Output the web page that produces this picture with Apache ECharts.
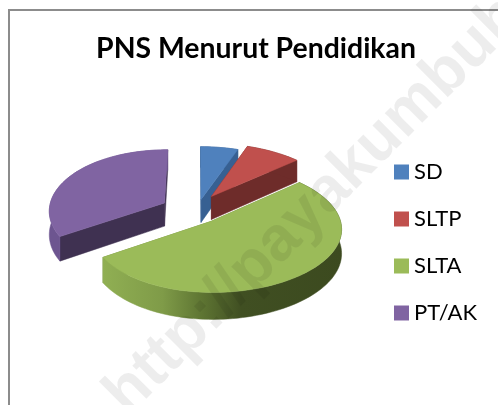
<!DOCTYPE html>
<html><head><meta charset="utf-8">
<style>html,body{margin:0;padding:0;background:#fff}#c{width:498px;height:405px}</style>
<script src="https://cdn.jsdelivr.net/npm/echarts@6/dist/echarts.min.js"></script>
</head><body><div id="c"></div>
<script>
const categories = ['SD', 'SLTP', 'SLTA', 'PT/AK'];
const values = [5.5, 8, 52.5, 34];
const topColors = ['#4f81bd', '#c0504d', '#9bbb59', '#8064a2'];
const cutColors = ['#376092', '#6e2c2a', '#6f8a3d', '#3f3151'];
const explode = [24, 26, 23, 38];
const lift = [-2, -6, -1, -1];
const drawOrder = [0, 1, 3, 2];

const CX = 197, CY = 213, R = 122, K = 0.5, D = 1100, T = 23.5, SKEW = 0.3;
const total = values.reduce((a, b) => a + b, 0);
const starts = values.map((_, i) => values.slice(0, i).reduce((a, b) => a + b, 0) / total * 360);

function renderSlice(i) {
  return function (params, api) {
    const sweep = api.value(0) / total * 360;
    const a0 = starts[i], a1 = a0 + sweep, mid = (a0 + a1) / 2 * Math.PI / 180;
    const ox = explode[i] * Math.sin(mid), oy = -explode[i] * Math.cos(mid);
    const proj = (x, y, h) => {
      const s = D / (D - (y + oy));
      const sx = D / (D - (y + oy) - (x + ox) * SKEW);
      return [CX + (x + ox) * sx, CY + lift[i] + (y + oy) * K * s + h * s];
    };
    const rim = a => { const r = a * Math.PI / 180; return [R * Math.sin(r), -R * Math.cos(r)]; };
    const arc = [];
    for (let a = a0; a <= a1 + 0.001; a += (a1 - a0) / Math.ceil(sweep / 2)) arc.push(rim(a));
    const top = arc.map(p => proj(p[0], p[1], 0));
    const low = arc.map(p => proj(p[0], p[1], T));
    const apexT = proj(0, 0, 0), apexB = proj(0, 0, T);
    const poly = (points, fill) => ({ type: 'polygon', shape: { points }, style: { fill, stroke: fill, lineWidth: 0.5 } });
    const xs = top.concat(low).map(p => p[0]);
    const minX = Math.min(...xs), maxX = Math.max(...xs);
    const wallFill = i === 2 ? new echarts.graphic.LinearGradient(minX, 0, maxX, 0, [
      { offset: 0, color: '#90af53' }, { offset: 0.25, color: '#7f9b48' },
      { offset: 0.41, color: '#5f7633' }, { offset: 0.58, color: '#404f22' },
      { offset: 1, color: '#3c4a1f' }
    ], true) : cutColors[i];
    const wallSide = i === 3 ? '#6d5590' : wallFill;
    return {
      type: 'group',
      children: [
        poly([apexT, top[0], low[0], apexB], cutColors[i]),
        poly([apexT, top[top.length - 1], low[low.length - 1], apexB], cutColors[i]),
        poly(top.concat(low.slice().reverse()), wallSide),
        poly([apexT].concat(top), topColors[i])
      ]
    };
  };
}

const chart = echarts.init(document.getElementById('c'), null, { renderer: 'canvas' });
chart.setOption({
  animation: false,
  title: {
    text: 'PNS Menurut Pendidikan', left: 251, top: 30, textAlign: 'center',
    textStyle: { fontFamily: 'Lato', fontWeight: 'bold', fontSize: 28.4, color: '#000' }
  },
  legend: {
    orient: 'vertical', left: 389, top: 156, itemWidth: 15, itemHeight: 15, itemGap: 25,
    data: categories.map((name, i) => ({ name, icon: 'rect', itemStyle: { color: topColors[i] } })),
    textStyle: { fontFamily: 'Lato', fontSize: 22, color: '#000' }
  },
  series: categories.map((name, i) => ({
    type: 'custom', name, coordinateSystem: 'none', z: 2 + drawOrder.indexOf(i),
    itemStyle: { color: topColors[i] },
    renderItem: renderSlice(i), data: [[values[i]]]
  })),
  graphic: [
    { type: 'rect', z: 1, silent: true, shape: { x: 9, y: 10, width: 520, height: 440 },
      style: { fill: '#fff', stroke: '#8c8c8c', lineWidth: 2 } },
    { type: 'text', z: 100, silent: true, x: 138, y: 427, rotation: Math.PI / 4,
      style: { text: 'http://payakumbuh', font: 'bold 63px "Liberation Sans"', fill: 'rgba(0,0,0,0.07)', textVerticalAlign: 'bottom' } }
  ]
});
</script></body></html>
